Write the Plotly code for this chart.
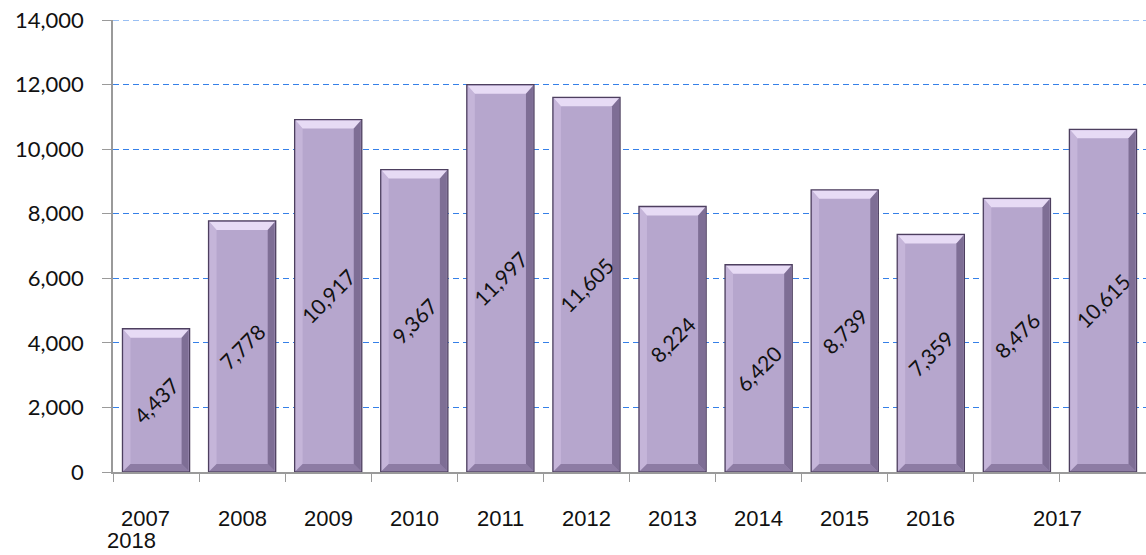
import plotly.graph_objects as go

years = ["2007", "2008", "2009", "2010", "2011", "2012", "2013", "2014", "2015", "2016", "2017", "2018"]
values = [4437, 7778, 10917, 9367, 11997, 11605, 8224, 6420, 8739, 7359, 8476, 10615]
y_ticks = [0, 2000, 4000, 6000, 8000, 10000, 12000, 14000]

W, H = 1146, 555
ML, MR, MT, MB = 113, 0, 20, 83
YMAX = 14000
n = len(years)
xs = list(range(n))
bargap = 0.22
cat_px = (W - ML - MR) / n
bw = cat_px * (1 - bargap)
plot_h = H - MT - MB
GRID = "#3580e8"

fig = go.Figure()
fig.add_trace(go.Bar(
    x=xs, y=values,
    width=1 - bargap,
    marker=dict(color="#b6a6cd", line=dict(color="#4d3f5f", width=1.3)),
    text=[f"{v:,}" for v in values],
    textposition="inside",
    insidetextanchor="middle",
    textangle=-45,
    constraintext="none",
    textfont=dict(family="Lato, Calibri, sans-serif", size=21, color="#111111"),
    hoverinfo="skip",
))

# top gridline at the last tick (plotly omits grid at the range edge)
fig.add_shape(type="line", xref="paper", yref="y", x0=0, x1=1, y0=y_ticks[-1], y1=y_ticks[-1],
              line=dict(color=GRID, width=1, dash="6px,4px"), layer="below")

# bevel effect shapes anchored to each bar's data value
h = bw / 2
b = 8
for i, v in enumerate(values):
    hp = v / YMAX * plot_h
    common = dict(type="path", xref="x", yref="y", xsizemode="pixel", ysizemode="pixel",
                  xanchor=i, layer="above", line=dict(width=0))
    fig.add_shape(**common, yanchor=v,
                  path=f"M{-h+1},-1 L{h-1},-1 L{h-b},{-b-1} L{-h+b},{-b-1} Z",
                  fillcolor="rgba(240,228,252,0.85)")
    fig.add_shape(**common, yanchor=v,
                  path=f"M{h-1},-1 L{h-1},{-hp+1} L{h-b},{-hp+b} L{h-b},{-b-1} Z",
                  fillcolor="rgba(80,64,104,0.55)")
    fig.add_shape(**common, yanchor=v,
                  path=f"M{-h+1},-1 L{-h+1},{-hp+1} L{-h+b},{-hp+b} L{-h+b},{-b-1} Z",
                  fillcolor="rgba(215,200,232,0.45)")
    fig.add_shape(**common, yanchor=0,
                  path=f"M{-h+1},1 L{h-1},1 L{h-b},{b} L{-h+b},{b} Z",
                  fillcolor="rgba(90,74,116,0.45)")

xfont = dict(family="Liberation Sans, Arial", size=22, color="#111111")
label_x = list(xs)
label_x[0] = -0.12
for i, yr in enumerate(years[:-2]):
    fig.add_annotation(x=label_x[i], y=-0.102, xref="x", yref="paper", text=yr, showarrow=False,
                       font=xfont, xanchor="center", yanchor="middle")
fig.add_annotation(x=10.47, y=-0.102, xref="x", yref="paper", text=years[-2], showarrow=False,
                   font=xfont, xanchor="center", yanchor="middle")
fig.add_annotation(x=-0.28, y=-0.152, xref="x", yref="paper", text=years[-1], showarrow=False,
                   font=xfont, xanchor="center", yanchor="middle")

fig.update_layout(
    width=W, height=H,
    margin=dict(l=ML, r=MR, t=MT, b=MB, pad=0),
    plot_bgcolor="white", paper_bgcolor="white",
    showlegend=False,
    bargap=bargap,
)
fig.update_xaxes(
    range=[-0.5, n - 0.5],
    tickvals=[i - 0.5 for i in range(n + 1)],
    ticktext=["" for _ in range(n + 1)],
    ticks="outside", ticklen=8, tickcolor="#9a9a9a",
    showgrid=False, zeroline=False,
    showline=True, linecolor="#9a9a9a", linewidth=1.5,
)
fig.update_yaxes(
    range=[0, YMAX],
    tickvals=y_ticks,
    ticktext=[f"{t:,}" for t in y_ticks],
    ticks="outside", ticklen=9, tickcolor="#9a9a9a",
    ticklabelstandoff=14,
    tickfont=dict(family="Lato, Calibri, sans-serif", size=22, color="#111111"),
    showgrid=True, gridcolor=GRID, griddash="6px,4px", gridwidth=1,
    zeroline=False,
    showline=True, linecolor="#9a9a9a", linewidth=1.5,
)

fig.write_html("out.html", config={"displayModeBar": False},
               post_script="document.body.style.margin='0px';")
